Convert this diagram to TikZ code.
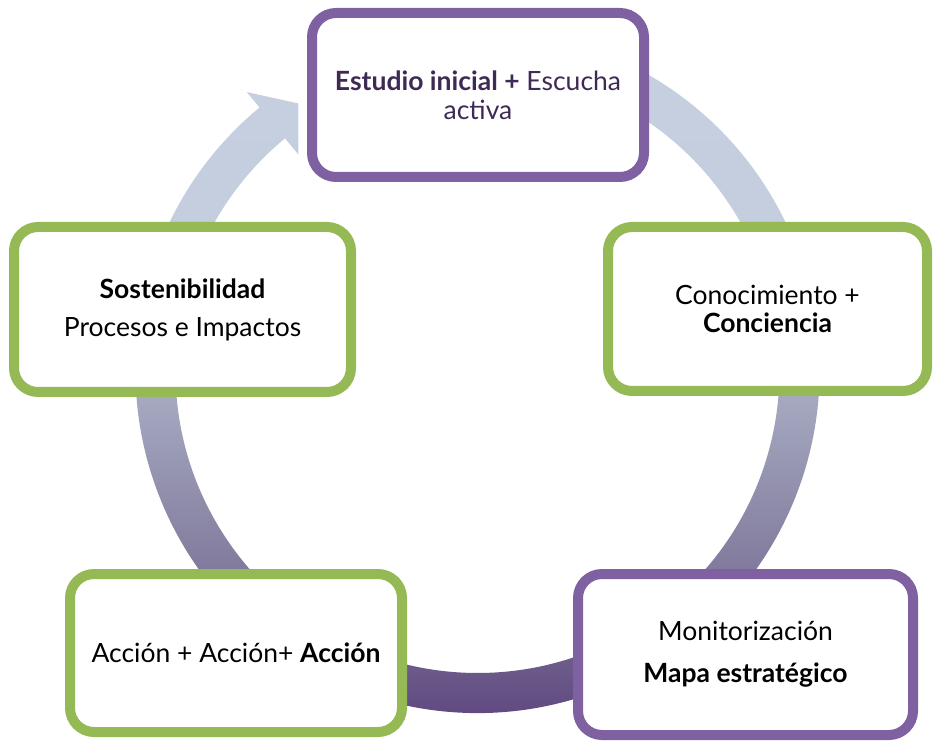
\documentclass[tikz,border=0pt]{standalone}
\usepackage{fontspec}
\setmainfont{Lato}
\definecolor{boxgreen}{HTML}{95BA55}
\definecolor{boxpurple}{HTML}{7F61A1}
\definecolor{txtpurple}{HTML}{3E2A55}
\definecolor{ringtop}{HTML}{C8D2E3}
\definecolor{ringlt}{HTML}{C4CEDF}
\definecolor{ringmid}{HTML}{A4A8BF}
\definecolor{ringlow}{HTML}{7E7599}
\definecolor{ringbot}{HTML}{5E467E}
\pgfdeclareverticalshading{ringshade}{100bp}{color(0bp)=(ringbot); color(27bp)=(ringbot);
  color(36bp)=(ringlow); color(48bp)=(ringmid); color(60bp)=(ringlt); color(100bp)=(ringtop)}
\begin{document}
\begin{tikzpicture}[x=1pt,y=1pt,
  stagebox/.style={draw, line width=10pt, rounded corners=24pt, fill=white,
    align=center, inner sep=0pt, font=\fontsize{26.5}{29}\selectfont},
  greenbox/.style={stagebox, draw=boxgreen},
  purplebox/.style={stagebox, draw=boxpurple}]
\useasboundingbox (0,0) rectangle (933,742);
\coordinate (c) at (477.5,371);
\begin{scope}[shift={(c)}]
  \shade[shading=ringshade]
    (110:342) arc[start angle=110, end angle=-230.4, radius=342]
    -- (-230.4:362) -- (-236.2:322) -- (-230.4:281) -- (-230.4:302)
    arc[start angle=-230.4, end angle=110, radius=302] -- cycle;
\end{scope}
\node[purplebox, minimum width=332pt, minimum height=164pt, text=txtpurple] (estudio) at (478,647)
  {{\bfseries Estudio inicial +} Escucha\\activa};
\node[greenbox, minimum width=337pt, minimum height=165pt] (sost) at (182.5,432.5)
  {{\bfseries Sostenibilidad}\\[9pt]Procesos e Impactos};
\node[greenbox, minimum width=319pt, minimum height=164pt] (conoc) at (767.5,433)
  {Conocimiento +\\[-1pt]{\bfseries Conciencia}};
\node[greenbox, minimum width=332pt, minimum height=158pt] (accion) at (236,89)
  {Acción + Acción+ {\bfseries Acción}};
\node[purplebox, minimum width=335pt, minimum height=161pt] (monit) at (745.5,87.5)
  {Monitorización\\[13pt]{\bfseries Mapa estratégico}};
\end{tikzpicture}
\end{document}
